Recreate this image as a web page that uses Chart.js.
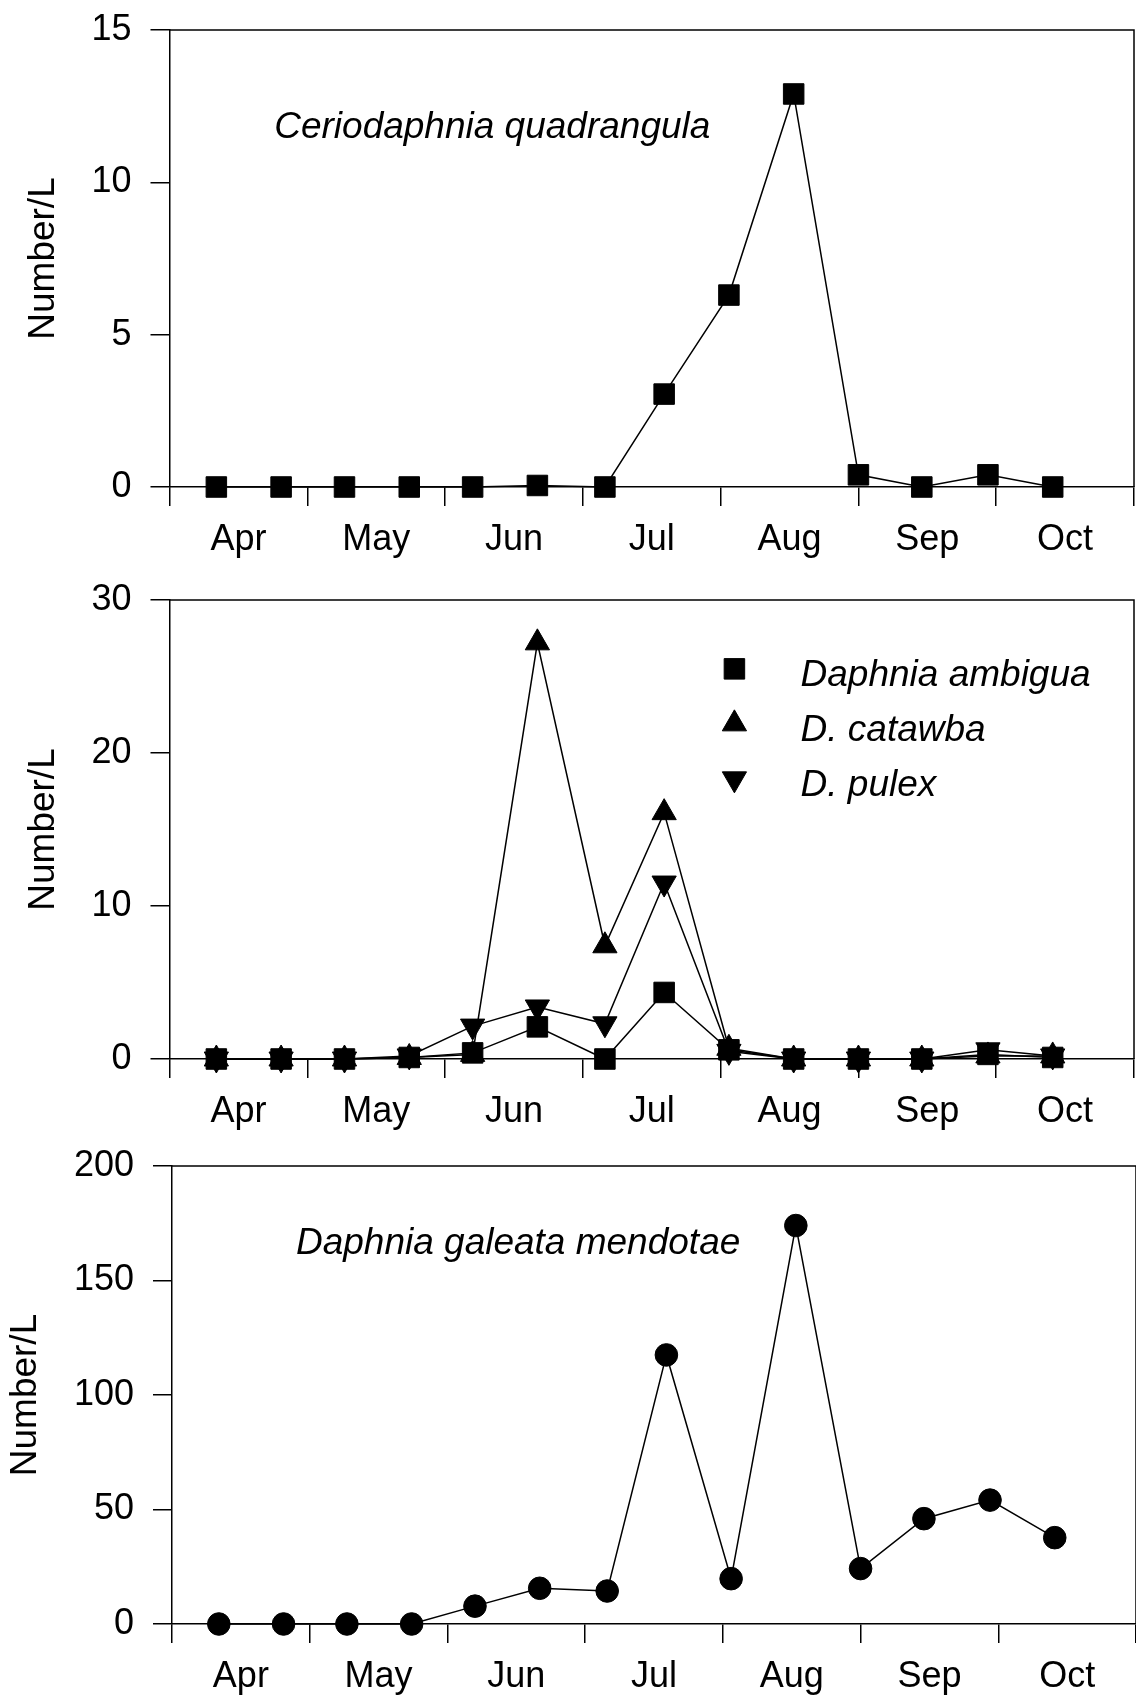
<!DOCTYPE html>
<html>
<head>
<meta charset="utf-8">
<script src="https://cdn.jsdelivr.net/npm/chart.js@4.4.1/dist/chart.umd.min.js"></script>
<style>
  body { margin: 0; background: #fff; }
  #page { position: relative; width: 1136px; height: 1700px; overflow: hidden; background: #fff; }
  canvas { position: absolute; left: 0; }
</style>
</head>
<body>
<div id="page">
  <canvas id="chartCerio" width="1136" height="561" style="top:0px"></canvas>
  <canvas id="chartDaphnia" width="1136" height="563" style="top:570px"></canvas>
  <canvas id="chartGaleata" width="1136" height="562" style="top:1136px"></canvas>
</div>
<script>
// sampling dates, in months after 1 April (biweekly)
const sampleMonths = [0.34, 0.81, 1.27, 1.74, 2.20, 2.67, 3.16, 3.59, 4.06, 4.53, 5.00, 5.46, 5.94, 6.41];
const monthLabels = ['Apr', 'May', 'Jun', 'Jul', 'Aug', 'Sep', 'Oct'];
const monthCenters = [0.5, 1.5, 2.5, 3.5, 4.5, 5.5, 6.5];

// densities, Number/L
const cerioValues = [0, 0, 0, 0, 0, 0.05, 0, 3.05, 6.3, 12.9, 0.4, 0, 0.4, 0];
const ambiguaValues = [0, 0, 0, 0.1, 0.4, 2.1, 0, 4.35, 0.6, 0, 0, 0, 0.3, 0.1];
const catawbaValues = [0, 0, 0, 0.1, 0.3, 27.2, 7.4, 16.1, 0.7, 0, 0, 0, 0.2, 0.2];
const pulexValues = [0, 0, 0, 0.2, 2.15, 3.4, 2.3, 11.5, 0.5, 0, 0, 0, 0.6, 0.2];
const galeataValues = [0, 0, 0, 0, 7.8, 15.6, 14.4, 117.5, 19.8, 174, 24.2, 46, 54.1, 37.7];

const FONT = '"Liberation Sans", Arial, sans-serif';
const FONT_SIZE = 36;
const NAME_SIZE = 37;
const TICK_LEN = 19;

function toPoints(values) {
    return values.map((v, i) => ({ x: sampleMonths[i], y: v }));
}

function series(label, values, pointStyle, radius, rotation) {
    return {
        label: label,
        data: toPoints(values),
        borderColor: '#000',
        backgroundColor: '#000',
        borderWidth: 1.5,
        pointStyle: pointStyle,
        pointRadius: radius,
        pointRotation: rotation || 0,
        pointBorderWidth: 1,
        pointBorderColor: '#000',
        pointBackgroundColor: '#000',
        tension: 0,
        clip: false
    };
}

// top and right edges of the box
const framePlugin = {
    id: 'frame',
    beforeDatasetsDraw(chart) {
        const { ctx, chartArea } = chart;
        ctx.save();
        ctx.strokeStyle = '#000';
        ctx.lineWidth = 1.5;
        ctx.beginPath();
        ctx.moveTo(chartArea.left, chartArea.top);
        ctx.lineTo(chartArea.right, chartArea.top);
        ctx.lineTo(chartArea.right, chartArea.bottom);
        ctx.stroke();
        ctx.restore();
    }
};

// italic species name and the symbol key, placed in data units
const notesPlugin = {
    id: 'notes',
    afterDatasetsDraw(chart, args, opts) {
        const { ctx, scales } = chart;
        ctx.save();
        ctx.fillStyle = '#000';
        ctx.strokeStyle = '#000';
        ctx.font = 'italic ' + NAME_SIZE + 'px ' + FONT;
        ctx.textAlign = 'left';
        ctx.textBaseline = 'alphabetic';

        if (opts.title) {
            ctx.fillText(opts.title.text, scales.x.getPixelForValue(opts.title.x), scales.y.getPixelForValue(opts.title.y));
        }

        if (opts.key) {
            const k = opts.key;
            const mx = scales.x.getPixelForValue(k.x);
            const tx = scales.x.getPixelForValue(k.textX);
            let my = scales.y.getPixelForValue(k.y);
            chart.data.datasets.forEach(ds => {
                Chart.helpers.drawPoint(ctx, {
                    pointStyle: ds.pointStyle,
                    radius: ds.pointRadius,
                    rotation: ds.pointRotation,
                    borderWidth: 1
                }, mx, my);
                ctx.fillText(ds.label, tx, my + 17);
                my += k.rowGap;
            });
        }
        ctx.restore();
    }
};

function makePanel(canvasId, datasets, yMax, yStep, setup) {
    const ctx = document.getElementById(canvasId);

    const options = {
        responsive: false,
        animation: false,
        events: [],
        layout: {
            autoPadding: false,
            padding: { top: 30, right: setup.right, bottom: 0, left: 0 }
        },
        plugins: {
            legend: { display: false },
            tooltip: { enabled: false },
            notes: { title: setup.title, key: setup.key }
        },
        scales: {
            x: {
                type: 'linear',
                min: 0,
                max: 7,
                ticks: { display: false, stepSize: 1 },
                grid: { drawOnChartArea: false, tickLength: TICK_LEN, color: '#000', lineWidth: 1.5 },
                border: { color: '#000', width: 1.5 },
                afterFit: s => { s.height = TICK_LEN; }
            },
            months: {
                type: 'linear',
                position: 'bottom',
                weight: 1,
                min: 0,
                max: 7,
                afterBuildTicks: s => { s.ticks = monthCenters.map(v => ({ value: v })); },
                ticks: {
                    callback: (v, i) => monthLabels[i],
                    font: { family: FONT, size: FONT_SIZE },
                    color: '#000',
                    padding: 12,
                    maxRotation: 0,
                    autoSkip: false
                },
                grid: { display: false, drawTicks: false },
                border: { display: false },
                afterFit: s => { s.height = 55; }
            },
            y: {
                min: 0,
                max: yMax,
                ticks: {
                    stepSize: yStep,
                    font: { family: FONT, size: FONT_SIZE },
                    color: '#000',
                    padding: 19
                },
                grid: { drawOnChartArea: false, tickLength: TICK_LEN, color: '#000', lineWidth: 1.5 },
                border: { color: '#000', width: 1.5 },
                title: {
                    display: true,
                    text: 'Number/L',
                    color: '#000',
                    font: { family: FONT, size: 37 },
                    padding: { top: setup.titlePad, bottom: 0 }
                },
                afterFit: s => {
                    s.width = setup.left;
                    // the top padding is set by layout.padding instead
                    s.paddingTop = 0;
                    s.paddingBottom = 0;
                }
            }
        }
    };

    return new Chart(ctx, {
        type: 'line',
        data: { datasets: datasets },
        options: options,
        plugins: [framePlugin, notesPlugin]
    });
}

makePanel('chartCerio', [
    series('Ceriodaphnia quadrangula', cerioValues, 'rect', 14.5)
], 15, 5, {
    left: 169.5, right: 2, titlePad: 22,
    title: { text: 'Ceriodaphnia quadrangula', x: 0.76, y: 11.45 }
});

makePanel('chartDaphnia', [
    series('Daphnia ambigua', ambiguaValues, 'rect', 14.5),
    series('D. catawba', catawbaValues, 'triangle', 14),
    series('D. pulex', pulexValues, 'triangle', 14, 180)
], 30, 10, {
    left: 169.5, right: 2, titlePad: 22,
    key: { x: 4.10, textX: 4.58, y: 25.5, rowGap: 55 }
});

makePanel('chartGaleata', [
    series('Daphnia galeata mendotae', galeataValues, 'circle', 11.3)
], 200, 50, {
    left: 172, right: 0, titlePad: 4,
    title: { text: 'Daphnia galeata mendotae', x: 0.90, y: 161.7 }
});
</script>
</body>
</html>
